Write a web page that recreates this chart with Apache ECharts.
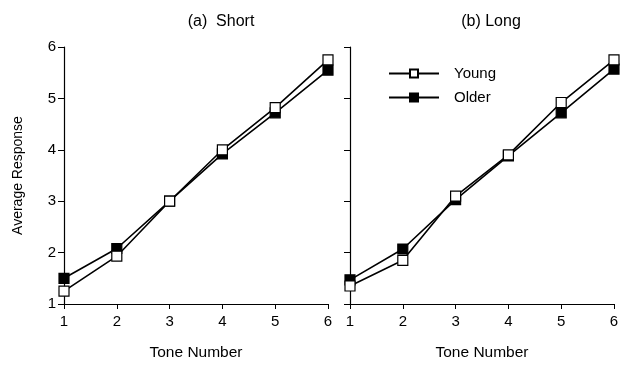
<!DOCTYPE html>
<html>
<head>
<meta charset="utf-8">
<script src="https://cdn.jsdelivr.net/npm/echarts@6/dist/echarts.min.js"></script>
<style>html,body{margin:0;padding:0;background:#fff}#c{width:631px;height:366px}</style>
</head>
<body>
<div id="c"></div>
<script>
var toneNumbers = [1, 2, 3, 4, 5, 6];
var shortYoung = [1.25, 1.93, 3.0, 4.0, 4.82, 5.75];
var shortOlder = [1.5, 2.08, 3.0, 3.92, 4.72, 5.55];
var longYoung = [1.35, 1.85, 3.1, 3.9, 4.92, 5.75];
var longOlder = [1.47, 2.07, 3.03, 3.88, 4.72, 5.57];
var panelTitles = ['(a)  Short', '(b) Long'];
var seriesNames = ['Young', 'Older'];

function pairs(xs, ys) { return xs.map(function (x, i) { return [x, ys[i]]; }); }

var font = 'Liberation Sans, Arial, sans-serif';
var chart = echarts.init(document.getElementById('c'));

function xAxis(idx) {
  return {
    gridIndex: idx, type: 'value', min: 1, max: 6, interval: 1,
    name: 'Tone Number', nameLocation: 'middle', nameGap: 41,
    nameTextStyle: { color: '#000', fontSize: 15.5, fontFamily: font },
    axisLine: { lineStyle: { color: '#000', width: 1.2 } },
    axisTick: { show: true, inside: false, length: 5, lineStyle: { color: '#000' } },
    axisLabel: { color: '#000', fontSize: 15, fontFamily: font, margin: 10 },
    splitLine: { show: false }
  };
}
function yAxis(idx, labels) {
  return {
    gridIndex: idx, type: 'value', min: 1, max: 6, interval: 1,
    name: labels ? 'Average Response' : '', nameLocation: 'middle', nameGap: 39,
    nameTextStyle: { color: '#000', fontSize: 14, fontFamily: font },
    axisLine: { show: true, lineStyle: { color: '#000', width: 1.2 } },
    axisTick: { show: true, inside: false, length: 6, lineStyle: { color: '#000' } },
    axisLabel: { show: labels, color: '#000', fontSize: 15, fontFamily: font, margin: 8 },
    splitLine: { show: false }
  };
}
function line(name, idx, data, fill) {
  return {
    name: name, type: 'line', xAxisIndex: idx, yAxisIndex: idx,
    data: data, symbol: 'rect', symbolSize: 10, showSymbol: true,
    lineStyle: { color: '#000', width: 1.6 },
    itemStyle: { color: fill, borderColor: '#000', borderWidth: 1.2 },
    z: fill === '#fff' ? 3 : 2,
    animation: false
  };
}

chart.setOption({
  backgroundColor: '#fff',
  animation: false,
  title: [
    { text: panelTitles[0], left: 216, top: 9, textAlign: 'center',
      textStyle: { color: '#000', fontSize: 16, fontWeight: 'normal', fontFamily: font } },
    { text: panelTitles[1], left: 486, top: 9, textAlign: 'center',
      textStyle: { color: '#000', fontSize: 16, fontWeight: 'normal', fontFamily: font } }
  ],
  legend: {
    data: seriesNames, orient: 'vertical', left: 383, top: 61,
    itemWidth: 50, itemHeight: 10, itemGap: 9,
    textStyle: { color: '#000', fontSize: 15, fontFamily: font, padding: [0, 0, 0, 10] },
    inactiveColor: '#000'
  },
  grid: [
    { left: 64, right: 303, top: 47, bottom: 57 },
    { left: 350, right: 17, top: 47, bottom: 57 }
  ],
  xAxis: [xAxis(0), xAxis(1)],
  yAxis: [yAxis(0, true), yAxis(1, false)],
  series: [
    line(seriesNames[0], 0, pairs(toneNumbers, shortYoung), '#fff'),
    line(seriesNames[1], 0, pairs(toneNumbers, shortOlder), '#000'),
    line(seriesNames[0], 1, pairs(toneNumbers, longYoung), '#fff'),
    line(seriesNames[1], 1, pairs(toneNumbers, longOlder), '#000')
  ]
});
</script>
</body>
</html>
